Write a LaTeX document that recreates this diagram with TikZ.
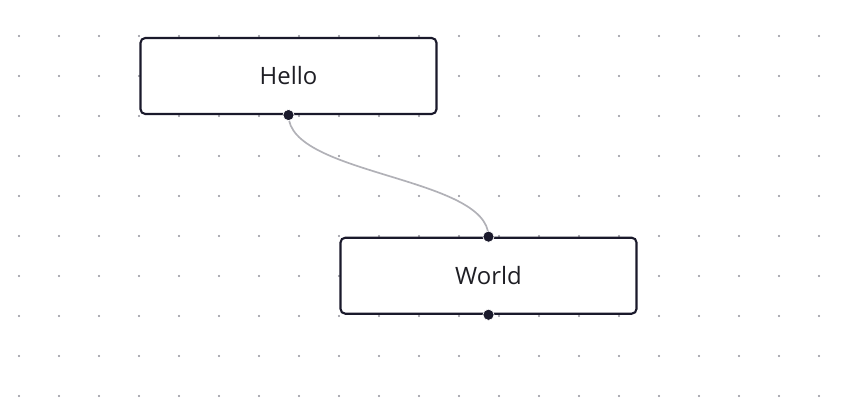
\documentclass[tikz,border=0pt]{standalone}
\usepackage{fontspec}
\setmainfont{Open Sans}
\usepackage{tikz}
\usetikzlibrary{positioning,calc}
\definecolor{ink}{RGB}{26,25,43}
\definecolor{wire}{RGB}{177,177,183}
\definecolor{gridc}{RGB}{145,145,154}
\definecolor{label}{RGB}{30,30,36}

\begin{document}
\begin{tikzpicture}[
  every node/.style={font=\fontsize{17}{20}\selectfont},
  flownode/.style={draw=ink,line width=1.5pt,rounded corners=0.12cm,fill=white,
    minimum width=7.4cm,minimum height=1.9cm,text=label},
  handle/.style={circle,fill=ink,draw=white,line width=0.5pt,inner sep=0pt,
    minimum size=0.28cm}]
\useasboundingbox (0,0) rectangle (21.45,10.075);
\foreach \i in {0,...,20}
  \foreach \j in {0,...,9}
    \fill[gridc] (0.475+\i,0.175+\j) circle (0.028);
\node[flownode] (hello) at (7.2125,8.175) {Hello};
\node[flownode,below=3.04cm of hello,xshift=5cm] (world) {World};
\draw[wire,line width=1.2pt] (hello.south) .. controls +(0,-1.51) and +(0,1.51) .. (world.north);
\node[handle] (hout) at (hello.south) {};
\node[handle] (win) at (world.north) {};
\node[handle] (wout) at (world.south) {};
\end{tikzpicture}
\end{document}
